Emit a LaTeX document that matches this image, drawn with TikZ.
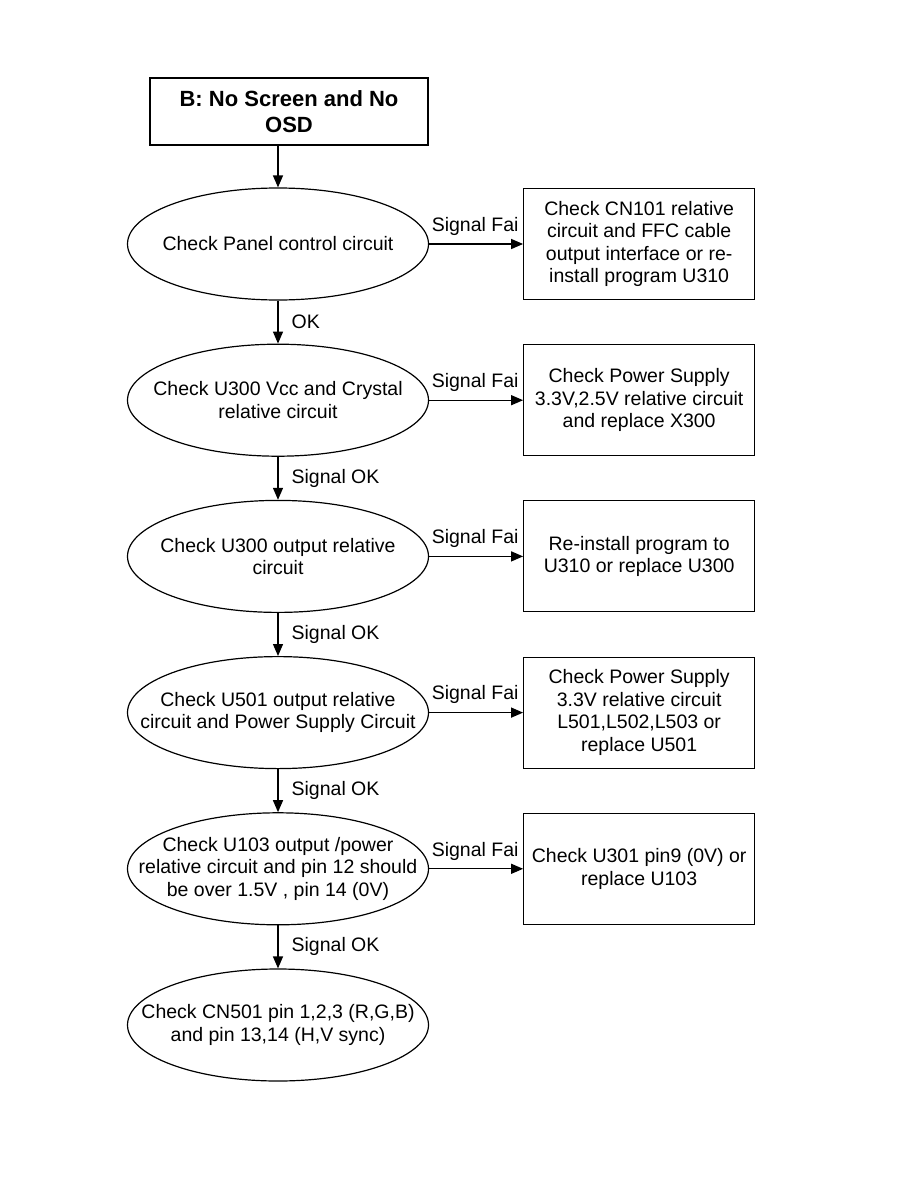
\documentclass[tikz,border=0pt]{standalone}
\usepackage{fontspec}
\setmainfont{Liberation Sans}
\usetikzlibrary{arrows.meta,positioning,shapes.geometric}

\begin{document}
\begin{tikzpicture}[x=1pt, y=-1pt,
  font=\fontsize{19.5}{22.5}\selectfont,
  chk/.style={draw, ellipse, line width=1.2pt, minimum width=301pt,
              minimum height=112pt, inner xsep=-45pt, inner ysep=0pt,
              align=center},
  fix/.style={draw, line width=1.1pt, minimum width=231pt,
              minimum height=111pt, inner sep=0pt, align=center},
  go/.style={-{Triangle[length=12pt,width=10pt]}, line width=1.3pt},
  fail/.style={pos=0, anchor=south west, inner sep=2pt, yshift=6pt},
  ok/.style={midway, right=11pt, inner sep=2pt}]
\useasboundingbox (0,0) rectangle (918,1188);
\node[draw, line width=1.8pt, minimum width=278pt, minimum height=67pt,
  align=center, font=\fontsize{22}{26}\selectfont\bfseries] (start)
  at (289,111.5) {B: No Screen and No\\OSD};
\node[chk] (e1) at (278,244) {Check Panel control circuit};
\node[chk, below=43pt of e1] (e2) {Check U300 Vcc and Crystal\\relative
  circuit};
\node[chk, below=43pt of e2] (e3) {Check U300 output relative\\circuit};
\node[chk, below=43pt of e3] (e4) {Check U501 output relative\\circuit
  and Power Supply Circuit};
\node[chk, below=43pt of e4] (e5) {Check U103 output /power\\relative
  circuit and pin 12 should\\be over 1.5V , pin 14 (0V)};
\node[chk, below=43pt of e5] (e6) {Check CN501 pin 1,2,3 (R,G,B)\\and
  pin 13,14 (H,V sync)};
\node[fix, right=94pt of e1] (b1) {Check CN101 relative\\circuit and FFC
  cable\\output interface or re-\\install program U310};
\node[fix, right=94pt of e2] (b2) {Check Power Supply\\3.3V,2.5V relative
  circuit\\and replace X300};
\node[fix, right=94pt of e3] (b3) {Re-install program to\\U310 or replace
  U300};
\node[fix, right=94pt of e4] (b4) {Check Power Supply\\3.3V relative
  circuit\\L501,L502,L503 or\\replace U501};
\node[fix, right=94pt of e5] (b5) {Check U301 pin9 (0V) or\\replace U103};
\draw[go] (start.south -| e1.north) -- (e1.north);
\draw[go] (e1) -- (e2) node[ok] {OK};
\draw[go] (e2) -- (e3) node[ok] {Signal OK};
\draw[go] (e3) -- (e4) node[ok] {Signal OK};
\draw[go] (e4) -- (e5) node[ok] {Signal OK};
\draw[go] (e5) -- (e6) node[ok] {Signal OK};
\draw[go] (e1.east) -- (b1.west |- e1.east) node[fail] {Signal Fai};
\draw[go] (e2.east) -- (b2.west |- e2.east) node[fail] {Signal Fai};
\draw[go] (e3.east) -- (b3.west |- e3.east) node[fail] {Signal Fai};
\draw[go] (e4.east) -- (b4.west |- e4.east) node[fail] {Signal Fai};
\draw[go] (e5.east) -- (b5.west |- e5.east) node[fail] {Signal Fai};
\end{tikzpicture}
\end{document}
